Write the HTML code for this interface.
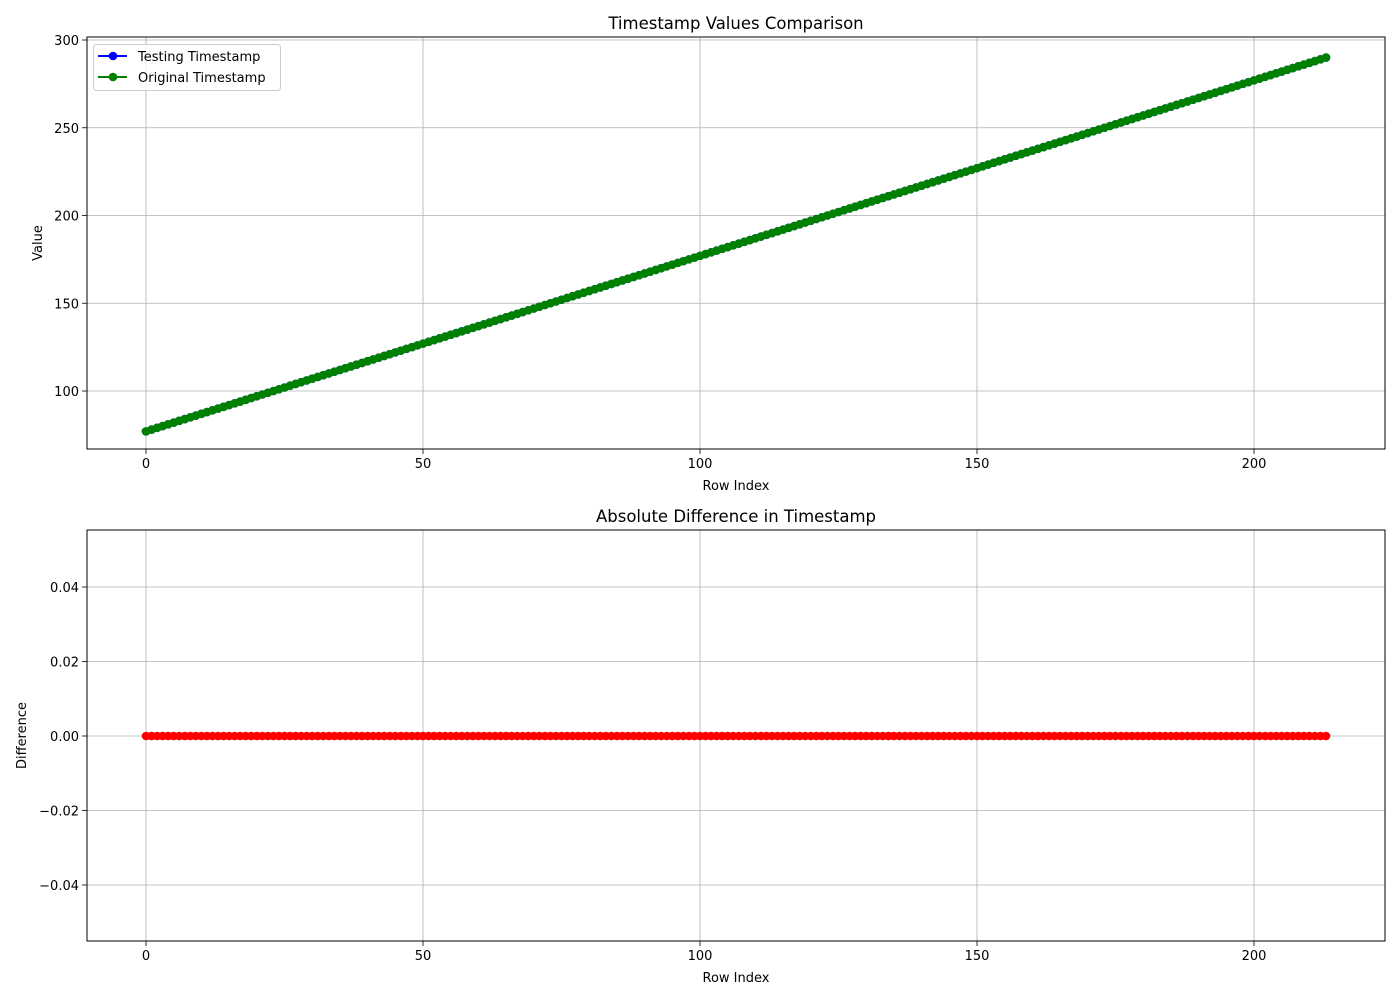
<!DOCTYPE html>
<html><head><meta charset="utf-8"><style>
body{margin:0;background:#fff;font-family:"Liberation Sans","DejaVu Sans",sans-serif}
svg text{font-family:"DejaVu Sans","Liberation Sans",sans-serif}
</style></head><body>
<svg id="c" width="1400" height="1000" xmlns="http://www.w3.org/2000/svg"></svg>
<script>
const rowIndex=[];for(let i=0;i<214;i++)rowIndex.push(i);
const testingValues=[77,78,79,80,81,82,83,84,85,86,87,88,89,90,91,92,93,94,95,96,97,98,99,100,101,102,103,104,105,106,107,108,109,110,111,112,113,114,115,116,117,118,119,120,121,122,123,124,125,126,127,128,129,130,131,132,133,134,135,136,137,138,139,140,141,142,143,144,145,146,147,148,149,150,151,152,153,154,155,156,157,158,159,160,161,162,163,164,165,166,167,168,169,170,171,172,173,174,175,176,177,178,179,180,181,182,183,184,185,186,187,188,189,190,191,192,193,194,195,196,197,198,199,200,201,202,203,204,205,206,207,208,209,210,211,212,213,214,215,216,217,218,219,220,221,222,223,224,225,226,227,228,229,230,231,232,233,234,235,236,237,238,239,240,241,242,243,244,245,246,247,248,249,250,251,252,253,254,255,256,257,258,259,260,261,262,263,264,265,266,267,268,269,270,271,272,273,274,275,276,277,278,279,280,281,282,283,284,285,286,287,288,289,290];
const originalValues=testingValues.slice();
const diffValues=[0,0,0,0,0,0,0,0,0,0,0,0,0,0,0,0,0,0,0,0,0,0,0,0,0,0,0,0,0,0,0,0,0,0,0,0,0,0,0,0,0,0,0,0,0,0,0,0,0,0,0,0,0,0,0,0,0,0,0,0,0,0,0,0,0,0,0,0,0,0,0,0,0,0,0,0,0,0,0,0,0,0,0,0,0,0,0,0,0,0,0,0,0,0,0,0,0,0,0,0,0,0,0,0,0,0,0,0,0,0,0,0,0,0,0,0,0,0,0,0,0,0,0,0,0,0,0,0,0,0,0,0,0,0,0,0,0,0,0,0,0,0,0,0,0,0,0,0,0,0,0,0,0,0,0,0,0,0,0,0,0,0,0,0,0,0,0,0,0,0,0,0,0,0,0,0,0,0,0,0,0,0,0,0,0,0,0,0,0,0,0,0,0,0,0,0,0,0,0,0,0,0,0,0,0,0,0,0,0,0,0,0,0,0];
const xTicks=[0,50,100,150,200];
const yTicksTop=[100,150,200,250,300];
const yTicksBot=[-0.04,-0.02,0,0.02,0.04];
const yTickLabelsBot=["\u22120.04","\u22120.02","0.00","0.02","0.04"];

const svg=document.getElementById('c');const NS='http://www.w3.org/2000/svg';
function el(t,a,p){const e=document.createElementNS(NS,t);for(const k in a)e.setAttribute(k,a[k]);(p||svg).appendChild(e);return e;}
function txt(s,a,p){const e=el('text',a,p);e.textContent=s;return e;}
const X=v=>146+v*5.54;
const Yt=v=>391-(v-100)*1.755;
const Yb=v=>736-v*3725;

function axes(name,top,bot,yTicks,yLabels,Y,title,ylab,ylabX){
  const g=el('g',{});
  
  
  xTicks.forEach(t=>{
    const l=el('line',{x1:X(t),x2:X(t),y1:top,y2:bot,stroke:'#b0b0b0','stroke-width':0.8},g);
    
    el('line',{x1:X(t),x2:X(t),y1:bot,y2:bot+5,stroke:'#000','stroke-width':0.8},g);
    const tx=txt(String(t),{x:X(t),y:bot+19,'font-size':13,'text-anchor':'middle'},g);
    
  });
  yTicks.forEach((t,i)=>{
    const l=el('line',{x1:87,x2:1385,y1:Y(t),y2:Y(t),stroke:'#b0b0b0','stroke-width':0.8},g);
    
    el('line',{x1:82,x2:87,y1:Y(t),y2:Y(t),stroke:'#000','stroke-width':0.8},g);
    const tx=txt(yLabels[i],{x:79,y:Y(t)+5,'font-size':13,'text-anchor':'end'},g);
    
  });
  const t1=txt(title,{x:736,y:top-8,'font-size':16.5,'text-anchor':'middle'});
  
  const t2=txt('Row Index',{x:736,y:bot+41,'font-size':13,'text-anchor':'middle'});
  
  const my=(top+bot)/2;
  const t3=txt(ylab,{x:ylabX,y:my,'font-size':13,'text-anchor':'middle',transform:`rotate(-90 ${ylabX} ${my})`});
  
  return g;
}
function frame(top,bot){const r=el('rect',{x:87,y:top,width:1298,height:bot-top,fill:'none',stroke:'#000','stroke-width':1});
  }
function series(vals,Y,color,name,line){
  const g=el('g',{});
  
  
  const n=Math.min(vals.length,rowIndex.length);
  const v2=vals.slice(0,n);
  if(line){el('polyline',{points:v2.map((v,i)=>X(rowIndex[i])+','+Y(v)).join(' '),fill:'none',stroke:color,'stroke-width':2},g);}
  v2.forEach((v,i)=>{const c=el('circle',{cx:X(rowIndex[i]),cy:Y(v),r:4.3,fill:color},g);
    });
}
axes('top-axes',37,449,yTicksTop,yTicksTop.map(String),Yt,'Timestamp Values Comparison','Value',42);
series(testingValues,Yt,'#0000ff','testing-series',true);
series(originalValues,Yt,'#008000','original-series',true);
frame(37,449);
const lg=el('g',{});


el('rect',{x:93.5,y:44.5,width:187,height:46,rx:3,fill:'#fff','fill-opacity':0.8,stroke:'#ccc'},lg);
[['Testing Timestamp','#0000ff',56],['Original Timestamp','#008000',77]].forEach(([s,c,y])=>{
  const e=el('g',{},lg);
  
  
  el('line',{x1:98,x2:127,y1:y,y2:y,stroke:c,'stroke-width':2},e);
  el('circle',{cx:113,cy:y,r:4.3,fill:c},e);
  txt(s,{x:138,y:y+5,'font-size':13},e);
});
axes('bottom-axes',530,941,yTicksBot,yTickLabelsBot,Yb,'Absolute Difference in Timestamp','Difference',26);
series(diffValues,Yb,'#ff0000','difference-series',false);
frame(530,941);
</script>
</body></html>
